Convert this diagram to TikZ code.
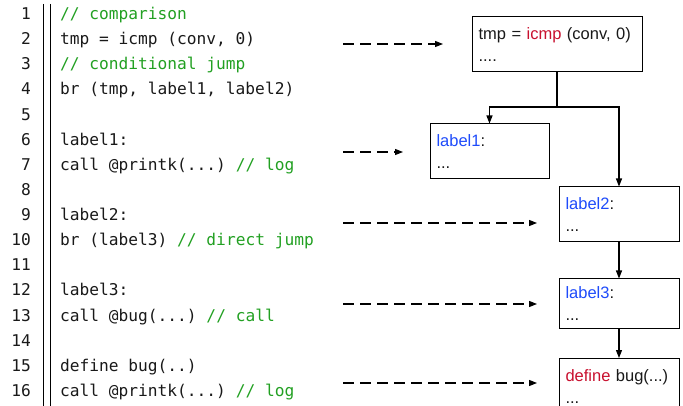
\documentclass[tikz,border=0pt]{standalone}
\usepackage{fontspec}
\setmainfont{Liberation Sans}
\newfontfamily\codefont{DejaVu Sans Mono}
\usetikzlibrary{arrows.meta}
\definecolor{cgreen}{RGB}{34,160,34}
\definecolor{cblue}{RGB}{30,75,250}
\definecolor{cred}{RGB}{200,16,46}
\definecolor{ctext}{RGB}{25,25,25}
\tikzset{
  num/.style={anchor=base east, inner sep=0pt, font=\codefont\fontsize{16.2}{18}\selectfont, text=ctext},
  code/.style={anchor=base west, inner sep=0pt, font=\codefont\fontsize{16.2}{18}\selectfont\frenchspacing, text=ctext},
  box/.style={draw, line width=1pt, rectangle, inner xsep=6.5pt, inner ysep=0pt, align=left,
    font=\fontsize{16.5}{22}\selectfont, text=ctext},
  flow/.style={line width=1.2pt, -{Triangle[length=8pt,width=6pt]}},
  dflow/.style={line width=1.1pt, dash pattern=on 11pt off 6pt, -{Triangle[length=8pt,width=6pt]}},
  bar/.style={line width=0.9pt},
}
\newcommand{\cmt}[1]{\textcolor{cgreen}{#1}}
\begin{document}
\frenchspacing
\begin{tikzpicture}[x=1pt,y=-1pt]
\useasboundingbox (0,0) rectangle (683,406);
\clip (0,0) rectangle (683,406);
% bars
\coordinate (bt1) at (43.5,4);
\coordinate (bb1) at (43.5,406);
\coordinate (bt2) at (50,4);
\coordinate (bb2) at (50,406);
\draw[bar] (bt1) -- (bb1);
\draw[bar] (bt2) -- (bb2);
% code lines
\def\ly#1{19.5+(#1-1)*25.13}
\node[num] (n1) at (31,{\ly{1}}) {1};
\node[num] (n2) at (31,{\ly{2}}) {2};
\node[num] (n3) at (31,{\ly{3}}) {3};
\node[num] (n4) at (31,{\ly{4}}) {4};
\node[num] (n5) at (31,{\ly{5}}) {5};
\node[num] (n6) at (31,{\ly{6}}) {6};
\node[num] (n7) at (31,{\ly{7}}) {7};
\node[num] (n8) at (31,{\ly{8}}) {8};
\node[num] (n9) at (31,{\ly{9}}) {9};
\node[num] (n10) at (31,{\ly{10}}) {10};
\node[num] (n11) at (31,{\ly{11}}) {11};
\node[num] (n12) at (31,{\ly{12}}) {12};
\node[num] (n13) at (31,{\ly{13}}) {13};
\node[num] (n14) at (31,{\ly{14}}) {14};
\node[num] (n15) at (31,{\ly{15}}) {15};
\node[num] (n16) at (31,{\ly{16}}) {16};
\node[code] (c1) at (60,{\ly{1}}) {\cmt{// comparison}};
\node[code] (c2) at (60,{\ly{2}}) {tmp = icmp (conv, 0)};
\node[code] (c3) at (60,{\ly{3}}) {\cmt{// conditional jump}};
\node[code] (c4) at (60,{\ly{4}}) {br (tmp, label1, label2)};
\node[code] (c6) at (60,{\ly{6}}) {label1:};
\node[code] (c7) at (60,{\ly{7}}) {call @printk(...) \cmt{// log}};
\node[code] (c9) at (60,{\ly{9}}) {label2:};
\node[code] (c10) at (60,{\ly{10}}) {br (label3) \cmt{// direct jump}};
\node[code] (c12) at (60,{\ly{12}}) {label3:};
\node[code] (c13) at (60,{\ly{13}}) {call @bug(...) \cmt{// call}};
\node[code] (c15) at (60,{\ly{15}}) {define bug(..)};
\node[code] (c16) at (60,{\ly{16}}) {call @printk(...) \cmt{// log}};
% boxes
\node[box, minimum width=170pt, minimum height=55pt, text width=157pt] (b1) at (557,44.5)
  {tmp = \textcolor{cred}{icmp} (conv, 0)\\....};
\node[box, minimum width=119pt, minimum height=55pt, text width=106pt] (l1) at (489.5,151.5)
  {\textcolor{cblue}{label1}:\\...};
\node[box, minimum width=120pt, minimum height=55pt, text width=107pt] (l2) at (619,214.5)
  {\textcolor{cblue}{label2}:\\...};
\node[box, minimum width=120pt, minimum height=49pt, text width=107pt] (l3) at (619,303.5)
  {\textcolor{cblue}{label3}:\\...};
\node[box, minimum width=120pt, minimum height=56pt, text width=107pt, anchor=north] (d1) at (619,358)
  {\textcolor{cred}{define} bug(...)\\...};
% solid connectors
\coordinate (split) at (557,107);
\draw[line width=1.2pt] (b1.south) -- (split);
\draw[flow] (split) -| (l1.north);
\draw[flow] (split) -| (l2.north);
\draw[flow] (l2.south) -- (l3.north);
\draw[flow] (l3.south) -- (d1.north);
% dashed connectors
\coordinate (s1) at (343,44);   \coordinate (e1) at (443,44);
\coordinate (s2) at (343,152);  \coordinate (e2) at (403,152);
\coordinate (s3) at (343,223);  \coordinate (e3) at (537,223);
\coordinate (s4) at (343,304);  \coordinate (e4) at (537,304);
\coordinate (s5) at (343,383);  \coordinate (e5) at (537,383);
\draw[dflow] (s1) -- (e1);
\draw[dflow] (s2) -- (e2);
\draw[dflow] (s3) -- (e3);
\draw[dflow] (s4) -- (e4);
\draw[dflow] (s5) -- (e5);
\end{tikzpicture}
\end{document}
